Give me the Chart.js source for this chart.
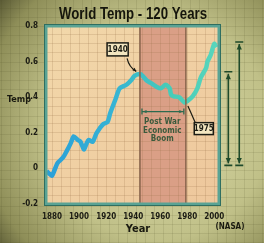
<!DOCTYPE html>
<html>
<head>
<meta charset="utf-8">
<script src="https://cdn.jsdelivr.net/npm/chart.js@4"></script>
<style>
  html, body { margin: 0; padding: 0; background: #9c9c68; }
  #wrap { width: 264px; height: 243px; }
</style>
</head>
<body>
<div id="wrap"><canvas id="tempChart" width="264" height="243"></canvas></div>
<script>
// values
const years = [1876, 1878, 1880, 1884, 1888, 1891, 1894, 1896, 1899, 1901, 1903.5, 1905, 1907, 1910, 1913, 1918, 1921, 1923, 1927, 1930, 1935, 1939, 1941, 1945, 1947, 1950, 1953, 1957, 1960.5, 1964, 1967, 1968, 1970, 1974, 1978, 1980, 1984, 1987.5, 1990, 1994, 1995, 1997.5, 2000, 2001.5];
const temps = [-0.015, -0.03, -0.04, 0.03, 0.06, 0.1, 0.145, 0.18, 0.16, 0.15, 0.107, 0.13, 0.16, 0.15, 0.2, 0.25, 0.26, 0.31, 0.39, 0.45, 0.47, 0.5, 0.52, 0.53, 0.52, 0.494, 0.48, 0.46, 0.45, 0.47, 0.45, 0.415, 0.405, 0.4, 0.37, 0.378, 0.405, 0.45, 0.51, 0.565, 0.6, 0.64, 0.7, 0.68];
const yTickLabels = [-0.2, 0, 0.2, 0.4, 0.6, 0.8];
const xTickLabels = [1880, 1900, 1920, 1940, 1960, 1980, 2000];
const boomYears = [1945, 1979];
const rangeLow = 0.017;
const rangeTops = [0.543, 0.71];
const titleText = 'World Temp - 120 Years';

const points = years.map((yr, i) => ({ x: yr, y: temps[i] }));

function lineGradient(chart, stops) {
  const a = chart.chartArea;
  if (!a) return stops[0][1];
  const g = chart.ctx.createLinearGradient(a.left, 0, a.right, 0);
  stops.forEach(s => g.addColorStop(s[0], s[1]));
  return g;
}

function isNear(v, list) {
  return list.some(t => Math.abs(v - t) < 0.001);
}

function arrowHead(ctx, x, y, dir, size) {
  ctx.beginPath();
  ctx.moveTo(x, y);
  ctx.lineTo(x - size * Math.cos(dir - 0.45), y - size * Math.sin(dir - 0.45));
  ctx.lineTo(x - size * Math.cos(dir + 0.45), y - size * Math.sin(dir + 0.45));
  ctx.closePath();
  ctx.fill();
}

const FONT = '"DejaVu Sans Condensed", "DejaVu Sans"';

const paper = {
  id: 'paper',
  beforeDraw(chart) {
    const { ctx, width, height, chartArea: a, scales: { x } } = chart;
    ctx.save();
    const bg = ctx.createRadialGradient(165, 130, 15, 150, 125, 210);
    bg.addColorStop(0, '#d8d8a6');
    bg.addColorStop(0.5, '#c0c088');
    bg.addColorStop(0.8, '#8e8e58');
    bg.addColorStop(1, '#3e3e22');
    ctx.fillStyle = bg;
    ctx.fillRect(0, 0, width, height);

    // faint paper grid
    ctx.strokeStyle = 'rgba(70,70,35,0.12)';
    ctx.lineWidth = 1;
    for (let gx = a.left % 9; gx < width; gx += 9) {
      ctx.beginPath(); ctx.moveTo(Math.round(gx) + 0.5, 0); ctx.lineTo(Math.round(gx) + 0.5, height); ctx.stroke();
    }
    for (let gy = a.top % 9; gy < height; gy += 9) {
      ctx.beginPath(); ctx.moveTo(0, Math.round(gy) + 0.5); ctx.lineTo(width, Math.round(gy) + 0.5); ctx.stroke();
    }

    const pf = ctx.createLinearGradient(a.left, a.top, a.right, a.bottom);
    pf.addColorStop(0, '#f2d8aa');
    pf.addColorStop(1, '#eec79c');
    ctx.fillStyle = pf;
    ctx.fillRect(a.left, a.top, a.width, a.height);

    const b0 = x.getPixelForValue(boomYears[0]);
    const b1 = x.getPixelForValue(boomYears[1]);
    ctx.fillStyle = '#da9f86';
    ctx.fillRect(b0, a.top, b1 - b0, a.height);
    ctx.restore();
  },
  afterDatasetsDraw(chart) {
    const { ctx, chartArea: a, scales: { x, y } } = chart;
    ctx.save();
    // band edges
    ctx.strokeStyle = '#86624a';
    ctx.lineWidth = 1.5;
    boomYears.forEach(yr => {
      const px = x.getPixelForValue(yr);
      ctx.beginPath(); ctx.moveTo(px, a.top); ctx.lineTo(px, a.bottom); ctx.stroke();
    });
    // plot border
    ctx.strokeStyle = '#5aa394';
    ctx.lineWidth = 3;
    ctx.strokeRect(a.left, a.top, a.width, a.height);
    ctx.strokeStyle = '#2f6e60';
    ctx.lineWidth = 1;
    ctx.strokeRect(a.left - 1.5, a.top - 1.5, a.width + 3, a.height + 3);

    // Post War Economic Boom arrow
    const ay = y.getPixelForValue(0.319);
    const ax0 = x.getPixelForValue(1946.5), ax1 = x.getPixelForValue(1977.5);
    ctx.strokeStyle = '#2d6a4e';
    ctx.fillStyle = '#2d6a4e';
    ctx.lineWidth = 1.3;
    ctx.beginPath(); ctx.moveTo(ax0, ay); ctx.lineTo(ax1, ay); ctx.stroke();
    ctx.beginPath(); ctx.moveTo(ax0, ay - 3); ctx.lineTo(ax0, ay + 3); ctx.moveTo(ax1, ay - 3); ctx.lineTo(ax1, ay + 3); ctx.stroke();
    arrowHead(ctx, ax0 + 1, ay, Math.PI, 4);
    arrowHead(ctx, ax1 - 1, ay, 0, 4);

    ctx.fillStyle = '#3b5a3c';
    ctx.font = 'bold 8px ' + FONT;
    ctx.textAlign = 'center';
    ctx.textBaseline = 'middle';
    const tx = x.getPixelForValue(1961.5);
    ['Post War', 'Economic', 'Boom'].forEach((t, i) => {
      ctx.fillText(t, tx, y.getPixelForValue(0.263 - i * 0.05));
    });

    // labelled boxes
    const boxes = [
      { text: '1940', x0: 1920.7, x1: 1936.3, y0: 0.705, y1: 0.632 },
      { text: '1975', x0: 1985.2, x1: 1999.3, y0: 0.257, y1: 0.19 }
    ];
    boxes.forEach(b => {
      const l = x.getPixelForValue(b.x0), r = x.getPixelForValue(b.x1);
      const t = y.getPixelForValue(b.y0), bt = y.getPixelForValue(b.y1);
      ctx.fillStyle = '#f3e6c0';
      ctx.fillRect(l, t, r - l, bt - t);
      ctx.strokeStyle = '#1c1c14';
      ctx.lineWidth = 1.5;
      ctx.strokeRect(l, t, r - l, bt - t);
      ctx.fillStyle = '#1c1c14';
      ctx.font = 'bold 8px ' + FONT;
      ctx.fillText(b.text, (l + r) / 2, (t + bt) / 2 + 0.5);
    });

    ctx.strokeStyle = '#1c1c14';
    ctx.fillStyle = '#1c1c14';
    ctx.lineWidth = 1.2;
    const s1x = x.getPixelForValue(1935.5), s1y = y.getPixelForValue(0.618);
    const e1x = x.getPixelForValue(1942.3), e1y = y.getPixelForValue(0.545);
    ctx.beginPath();
    ctx.moveTo(s1x, s1y);
    ctx.quadraticCurveTo(s1x + 2, s1y + 9, e1x, e1y);
    ctx.stroke();
    arrowHead(ctx, e1x, e1y, Math.atan2(e1y - s1y - 9, e1x - s1x - 2) + 0.2, 4);

    const s2x = x.getPixelForValue(1986), s2y = y.getPixelForValue(0.257);
    const e2x = x.getPixelForValue(1980.5), e2y = y.getPixelForValue(0.35);
    ctx.beginPath(); ctx.moveTo(s2x, s2y); ctx.lineTo(e2x, e2y); ctx.stroke();

    // range arrows on the right
    ctx.strokeStyle = '#1f4a2a';
    ctx.fillStyle = '#1f4a2a';
    ctx.lineWidth = 1.6;
    rangeTops.forEach((top, i) => {
      const px = x.getPixelForValue(2010.4 + i * 8.1);
      const pt = y.getPixelForValue(top), pb = y.getPixelForValue(rangeLow);
      ctx.beginPath(); ctx.moveTo(px, pt + 2); ctx.lineTo(px, pb - 2); ctx.stroke();
      ctx.beginPath(); ctx.moveTo(px - 4, pt); ctx.lineTo(px + 4, pt); ctx.moveTo(px - 4, pb); ctx.lineTo(px + 4, pb); ctx.stroke();
      arrowHead(ctx, px, pt + 2, -Math.PI / 2, 6);
      arrowHead(ctx, px, pb - 2, Math.PI / 2, 6);
    });

    // axis words
    ctx.fillStyle = '#1a1a10';
    ctx.font = 'bold 9px ' + FONT;
    ctx.textAlign = 'center';
    ctx.fillText('Temp', 19, 100);
    ctx.font = 'bold 11px ' + FONT;
    ctx.fillText('Year', 138, 229);
    ctx.font = 'bold 8px ' + FONT;
    ctx.fillText('(NASA)', 230, 227);

    // title, squeezed to the narrow face of the original
    ctx.font = 'bold 17px "Liberation Sans", Arial, sans-serif';
    const w = ctx.measureText(titleText).width;
    ctx.translate(133, 14);
    ctx.scale(148 / w, 1);
    ctx.fillStyle = '#15150c';
    ctx.fillText(titleText, 0, 0);
    ctx.restore();
  }
};

new Chart(document.getElementById('tempChart'), {
  type: 'line',
  data: {
    datasets: [
      {
        data: points,
        borderColor: ctx => lineGradient(ctx.chart, [[0, '#2a9fd8'], [0.4, '#36b4d4'], [0.7, '#45cbb8'], [1, '#5ad6bc']]),
        borderWidth: 4.5,
        pointRadius: 0,
        tension: 0.25
      },
      {
        data: points,
        borderColor: ctx => lineGradient(ctx.chart, [[0, '#62c8f0'], [0.45, '#8de6ee'], [0.75, '#d6fff0'], [1, '#f4fff8']]),
        borderWidth: 1.5,
        pointRadius: 0,
        tension: 0.25
      }
    ]
  },
  options: {
    responsive: false,
    animation: false,
    layout: { padding: { top: 26, right: 45, left: 0, bottom: 0 } },
    plugins: {
      legend: { display: false },
      tooltip: { enabled: false },
      title: { display: false }
    },
    scales: {
      x: {
        type: 'linear',
        min: 1875.5,
        max: 2003.5,
        afterFit: s => { s.height = 39; },
        afterBuildTicks: s => {
          const t = [];
          for (let k = 0; k <= 18; k++) t.push({ value: 1880 + k * 20 / 3 });
          s.ticks = t;
        },
        border: { display: false },
        grid: { color: 'rgba(150,110,70,0.2)', drawTicks: false },
        ticks: {
          autoSkip: false,
          maxRotation: 0,
          padding: 8,
          color: '#1c1c14',
          font: { family: FONT, size: 8, weight: 'bold' },
          callback: v => {
            const r = Math.round(v);
            return Math.abs(v - r) < 0.01 && xTickLabels.includes(r) ? String(r) : '';
          }
        }
      },
      y: {
        min: -0.2,
        max: 0.8,
        afterFit: s => { s.width = 46; },
        afterBuildTicks: s => {
          const t = [];
          for (let k = 0; k <= 20; k++) t.push({ value: -0.2 + k * 0.05 });
          s.ticks = t;
        },
        border: { display: false },
        grid: { color: 'rgba(150,110,70,0.2)', drawTicks: false },
        ticks: {
          autoSkip: false,
          padding: 8,
          color: '#1c1c14',
          font: { family: FONT, size: 8, weight: 'bold' },
          callback: v => isNear(v, yTickLabels) ? String(Math.round(v * 10) / 10) : ''
        }
      }
    }
  },
  plugins: [paper]
});
</script>
</body>
</html>
